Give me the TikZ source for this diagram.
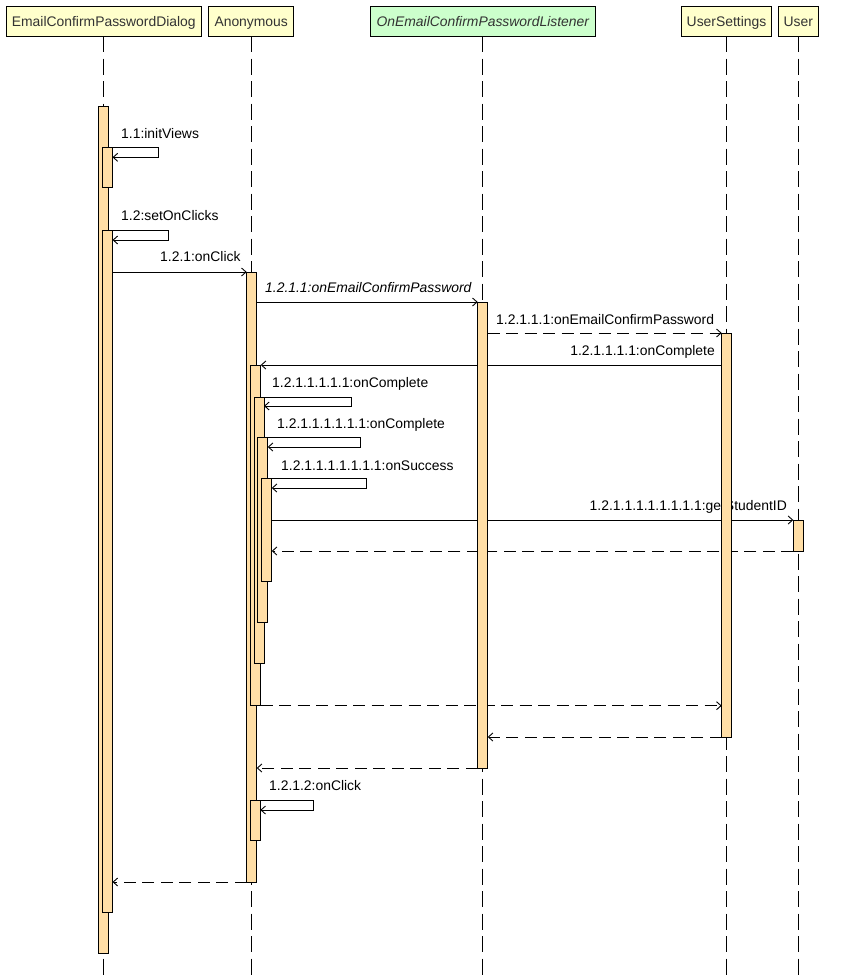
\documentclass[tikz,border=0pt]{standalone}
\usepackage{fontspec}
\setmainfont{Liberation Sans}
\usetikzlibrary{arrows.meta,backgrounds}
\definecolor{headyellow}{RGB}{255,255,204}
\definecolor{headgreen}{RGB}{204,255,204}
\definecolor{barorange}{RGB}{255,222,166}
\tikzset{head/.style={
        draw=black,
        line width=0.9pt,
        fill=headyellow,
        text=black!80,
        minimum height=30pt,
        minimum width=#1,
        text height=12pt,
        text depth=0pt,
        inner sep=0pt,
        outer sep=0pt},
        %
        ghead/.style={
            head=#1,
            fill=headgreen,
            font=\itshape},
        %
        bar/.style={
            draw=black,
            line width=0.8pt,
            fill=barorange,
            minimum width=10pt,
            minimum height=#1,
            inner sep=0pt,
            outer sep=0pt,
            anchor=north west}
        }
\def\fsz{13.9}

\begin{document}
\fontsize{\fsz}{16}\selectfont
\begin{tikzpicture}[x=1pt,y=-1pt,
                call/.style={draw=black,line width=0.9pt,-{Straight Barb[length=4.5pt,width=8pt]}},
                ret/.style={call,dash pattern=on 12pt off 6.5pt},
                life/.style={draw=black,line width=0.9pt,dash pattern=on 16pt off 6.5pt},
                lbl/.style={inner sep=0pt,text=black,anchor=base west}
                ]

\path[use as bounding box] (0,0) rectangle (867,977);
\coordinate (bot) at (0,977);

\node[head=195.7pt] (Dlg) at (103.8,21) {EmailConfirmPasswordDialog};
\node[head=85pt] (Anon) at (251.2,21) {Anonymous};
\node[ghead=225.7pt] (Lsn) at (482.8,21) {OnEmailConfirmPasswordListener};
\node[head=90pt] (USet) at (726.5,21) {UserSettings};
\node[head=40pt] (Usr) at (798.3,21) {User};
%
\node[bar=847pt] (D1) at (98.5,106) {};
\node[bar=40pt] (D2) at (102.5,147.3) {};
\node[bar=682pt] (D3) at (102.5,230) {};
\node[bar=610pt] (A1) at (246.7,272) {};
\node[bar=340.7pt] (A2) at (250.7,365) {};
\node[bar=266pt] (A3) at (254,397) {};
\node[bar=185pt] (A4) at (257.7,437) {};
\node[bar=103.7pt] (A5) at (261.7,478) {};
\node[bar=39.3pt] (A6) at (250.3,800.7) {};
\node[bar=466pt] (L1) at (477.7,302) {};
\node[bar=404pt] (S1) at (721.7,333) {};
\node[bar=31pt] (U1) at (793.3,520) {};
%
\begin{pgfonlayer}{background}
\fill[white] (0,0) rectangle (867,977);
\foreach \h in {Dlg,Anon,Lsn,USet,Usr}
    \draw[life] (\h.south) -- (\h.south |- bot);

\draw[call] (D2.north east) -- ++(46,0) -- ++(0,10) -- ++(-46,0);
\node[lbl] (m11) at (121,138) {1.1:initViews};
\draw[call] (D3.north east) -- ++(56,0) -- ++(0,10) -- ++(-56,0);
\node[lbl] (m12) at (121,220) {1.2:setOnClicks};
\draw[call] (D3.east |- A1.north) -- (A1.north west);
\node[lbl] (m121) at (160,261) {1.2.1:onClick};
\draw[call] (A1.east |- L1.north) -- (L1.north west);
\node[lbl,font=\itshape] (m1211) at (265,292) {1.2.1.1:onEmailConfirmPassword};
\draw[ret] (L1.east |- S1.north) -- (S1.north west);
\node[lbl] (m12111) at (496,324) {1.2.1.1.1:onEmailConfirmPassword};
\draw[call] (S1.west |- A2.north) -- (A2.north east);
\node[lbl,anchor=base east] (m121111) at (715,355) {1.2.1.1.1.1:onComplete};
\draw[call] (A3.north east) -- ++(87.7,0) -- ++(0,9) -- ++(-87.7,0);
\node[lbl] (m1211111) at (272,387) {1.2.1.1.1.1.1:onComplete};
\draw[call] (A4.north east) -- ++(92.3,0) -- ++(0,10) -- ++(-92.3,0);
\node[lbl] (m12111111) at (277,428) {1.2.1.1.1.1.1.1:onComplete};
\draw[call] (A5.north east) -- ++(95,0) -- ++(0,10) -- ++(-95,0);
\node[lbl] (m121111111) at (281,470) {1.2.1.1.1.1.1.1.1:onSuccess};
\draw[call] (A5.east |- U1.north) -- (U1.north west);
\node[lbl,anchor=base east] (mgsid) at (787,510) {1.2.1.1.1.1.1.1.1.1:getStudentID};
\draw[ret] (U1.south west) -- (A5.east |- U1.south);
\draw[ret] (A2.south east) -- (S1.west |- A2.south);
\draw[ret] (S1.south west) -- (L1.east |- S1.south);
\draw[ret] (L1.south west) -- (A1.east |- L1.south);
\draw[call] (A6.north east) -- ++(53,0) -- ++(0,9.3) -- ++(-53,0);
\node[lbl] (m1212) at (269,790) {1.2.1.2:onClick};
\draw[ret] (A1.south west) -- (D3.east |- A1.south);
\end{pgfonlayer}
\end{tikzpicture}
\end{document}
